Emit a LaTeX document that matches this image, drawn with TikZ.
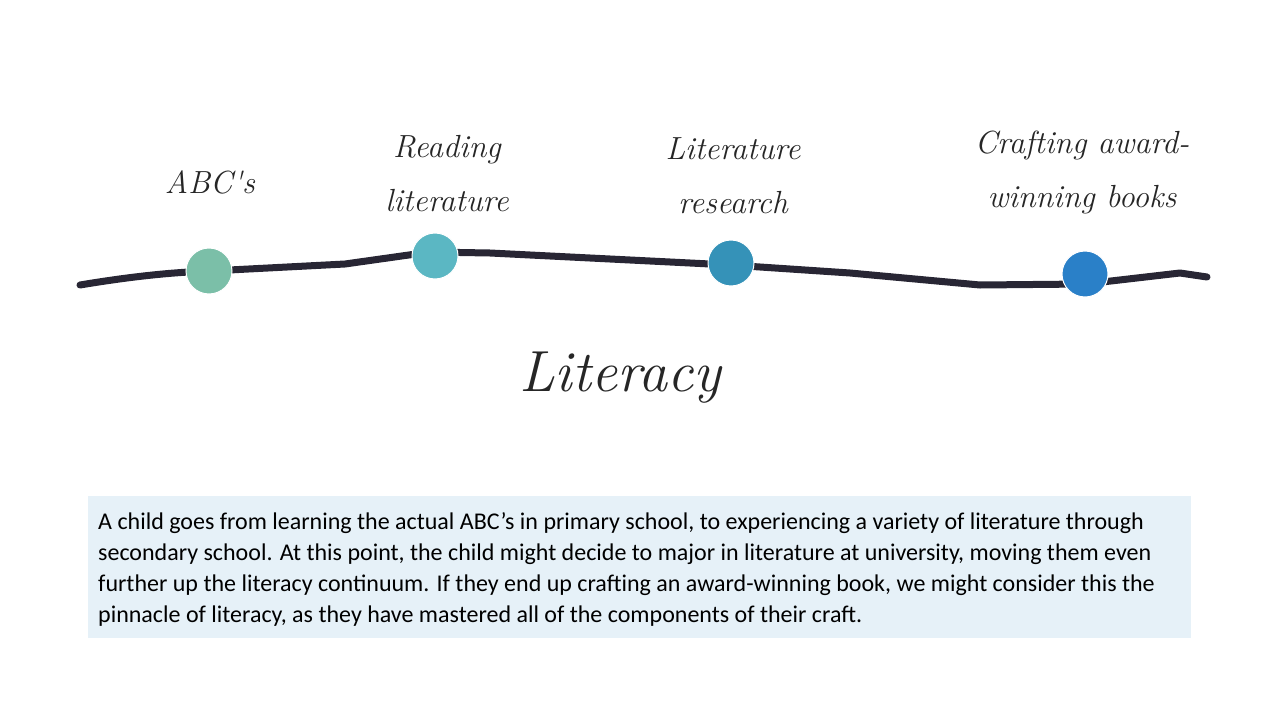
\documentclass[tikz,border=0pt]{standalone}
\usepackage{fontspec}
\setmainfont{Carlito}
\newfontfamily\hand{Latin Modern Roman}
\definecolor{cA}{RGB}{123,191,168}
\definecolor{cB}{RGB}{91,183,195}
\definecolor{cC}{RGB}{53,146,184}
\definecolor{cD}{RGB}{42,128,200}
\definecolor{boxbg}{RGB}{230,241,248}
\definecolor{linec}{RGB}{40,38,52}
\begin{document}
\begin{tikzpicture}[x=1pt,y=-1pt,
  dot/.style={circle,minimum size=46pt,inner sep=0pt,draw=white,line width=1pt},
  lbl/.style={font=\hand\itshape\fontsize{32}{54}\selectfont,align=center,text=black!85}]
\useasboundingbox (0,0) rectangle (1280,720);
\draw[line width=7pt,color=linec,line cap=round,line join=round]
 (80,285) .. controls (140,275) and (180,272) .. (210,271) -- (345,264) -- (430,252) -- (490,253) -- (730,265) -- (850,273) -- (980,285) -- (1085,284) -- (1180,273) -- (1207,277);
\node[dot,fill=cA] (a) at (209,271) {};
\node[dot,fill=cB] (b) at (435,256) {};
\node[dot,fill=cC] (c) at (731,263) {};
\node[dot,fill=cD] (d) at (1085,274) {};
\node[lbl] (la) at (210,182) {ABC's};
\node[lbl] (lb) at (447,174) {Reading\\literature};
\node[lbl] (lc) at (733,176) {Literature\\research};
\node[lbl] (ld) at (1082,172) {Crafting award-\\winning books};
\node[lbl,font=\hand\itshape\fontsize{58}{64}\selectfont] (lit) at (620,378) {Literacy};
\fill[boxbg] (88,496) rectangle (1191,638);
\node[anchor=north west,align=left,font=\fontsize{24}{31}\selectfont,inner sep=0pt] (txt) at (98,512) {A child goes from learning the actual ABC’s in primary school, to experiencing a variety of literature through\\secondary school. At this point, the child might decide to major in literature at university, moving them even\\further up the literacy continuum. If they end up crafting an award-winning book, we might consider this the\\pinnacle of literacy, as they have mastered all of the components of their craft.};
\end{tikzpicture}
\end{document}
